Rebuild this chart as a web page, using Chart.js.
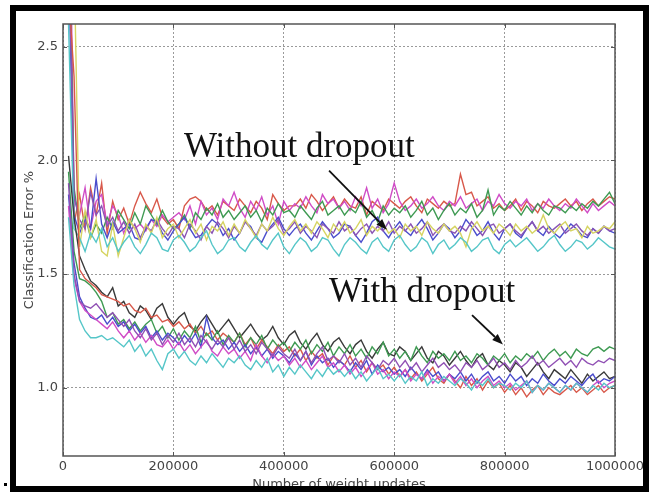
<!DOCTYPE html>
<html>
<head>
<meta charset="utf-8">
<script src="https://cdn.jsdelivr.net/npm/chart.js@4/dist/chart.umd.min.js"></script>
<style>
  body { margin: 0; background: #fff; }
  #wrap { position: relative; width: 649px; height: 492px; }
  #frame { position: absolute; left: 10px; top: 5px; width: 639px; height: 487px;
           border: 6px solid #000; box-sizing: border-box; pointer-events: none; }
  #dot { position: absolute; left: 4px; top: 483px; width: 3px; height: 3px; background: #000; }
</style>
</head>
<body>
<div id="wrap">
  <canvas id="myChart" width="649" height="492"></canvas>
  <div id="frame"></div>
  <div id="dot"></div>
</div>
<script>
// number of weight updates at each evaluation
var updates = [
  10000, 20000, 30000, 40000, 50000, 60000, 70000, 80000, 90000, 100000,
  110000, 120000, 130000, 140000, 150000, 160000, 170000, 180000, 190000, 200000,
  210000, 220000, 230000, 240000, 250000, 260000, 270000, 280000, 290000, 300000,
  310000, 320000, 330000, 340000, 350000, 360000, 370000, 380000, 390000, 400000,
  410000, 420000, 430000, 440000, 450000, 460000, 470000, 480000, 490000, 500000,
  510000, 520000, 530000, 540000, 550000, 560000, 570000, 580000, 590000, 600000,
  610000, 620000, 630000, 640000, 650000, 660000, 670000, 680000, 690000, 700000,
  710000, 720000, 730000, 740000, 750000, 760000, 770000, 780000, 790000, 800000,
  810000, 820000, 830000, 840000, 850000, 860000, 870000, 880000, 890000, 900000,
  910000, 920000, 930000, 940000, 950000, 960000, 970000, 980000, 990000, 1000000
];

var xTicks = [0, 200000, 400000, 600000, 800000, 1000000];
var yTicks = [1.0, 1.5, 2.0, 2.5];

// ---- without dropout ----
var noDropRed = [
  3.40, 1.72, 1.85, 1.70, 1.88, 1.76, 1.90, 1.68, 1.82, 1.74,
  1.79, 1.72, 1.80, 1.86, 1.81, 1.77, 1.83, 1.75, 1.72, 1.74,
  1.70, 1.80, 1.83, 1.84, 1.82, 1.78, 1.80, 1.76, 1.82, 1.80,
  1.78, 1.83, 1.80, 1.77, 1.82, 1.79, 1.74, 1.85, 1.81, 1.78,
  1.80, 1.80, 1.83, 1.79, 1.85, 1.82, 1.78, 1.81, 1.84, 1.79,
  1.83, 1.80, 1.79, 1.84, 1.76, 1.82, 1.80, 1.78, 1.83, 1.81,
  1.79, 1.82, 1.84, 1.80, 1.77, 1.83, 1.81, 1.79, 1.82, 1.80,
  1.81, 1.94, 1.85, 1.86, 1.80, 1.82, 1.84, 1.79, 1.81, 1.78,
  1.80, 1.83, 1.78, 1.82, 1.80, 1.77, 1.82, 1.80, 1.79, 1.81,
  1.83, 1.80, 1.82, 1.78, 1.81, 1.83, 1.80, 1.82, 1.84, 1.83
];
var noDropMagenta = [
  3.60, 1.84, 1.76, 1.88, 1.70, 1.82, 1.85, 1.72, 1.80, 1.76,
  1.68, 1.74, 1.70, 1.72, 1.69, 1.74, 1.71, 1.76, 1.73, 1.75,
  1.77, 1.74, 1.80, 1.72, 1.82, 1.76, 1.79, 1.74, 1.83, 1.80,
  1.86, 1.79, 1.75, 1.82, 1.78, 1.84, 1.76, 1.80, 1.72, 1.82,
  1.78, 1.81, 1.79, 1.84, 1.80, 1.77, 1.85, 1.81, 1.83, 1.79,
  1.82, 1.78, 1.84, 1.80, 1.88, 1.79, 1.83, 1.77, 1.81, 1.90,
  1.82, 1.78, 1.80, 1.83, 1.79, 1.81, 1.84, 1.80, 1.78, 1.82,
  1.80, 1.84, 1.79, 1.81, 1.83, 1.78, 1.82, 1.80, 1.85, 1.81,
  1.79, 1.82, 1.80, 1.83, 1.78, 1.81, 1.79, 1.83, 1.80, 1.78,
  1.81, 1.79, 1.83, 1.80, 1.77, 1.81, 1.78, 1.80, 1.82, 1.80
];
var noDropGreen = [
  3.10, 1.88, 1.70, 1.76, 1.66, 1.72, 1.68, 1.75, 1.70, 1.78,
  1.74, 1.70, 1.77, 1.72, 1.80, 1.76, 1.72, 1.78, 1.73, 1.70,
  1.72, 1.76, 1.70, 1.77, 1.74, 1.79, 1.76, 1.81, 1.75, 1.78,
  1.74, 1.77, 1.80, 1.75, 1.78, 1.73, 1.79, 1.76, 1.81, 1.77,
  1.78, 1.75, 1.80, 1.77, 1.74, 1.79, 1.82, 1.76, 1.78, 1.80,
  1.76, 1.79, 1.77, 1.82, 1.75, 1.78, 1.73, 1.80, 1.76, 1.79,
  1.77, 1.80, 1.75, 1.78, 1.82, 1.76, 1.79, 1.74, 1.78, 1.81,
  1.76, 1.79, 1.77, 1.81, 1.75, 1.78, 1.87, 1.76, 1.80, 1.78,
  1.82, 1.79, 1.76, 1.80, 1.77, 1.81, 1.78, 1.76, 1.80, 1.79,
  1.77, 1.80, 1.78, 1.81, 1.79, 1.82, 1.80, 1.83, 1.86, 1.81
];
var noDropBlue = [
  2.90, 1.76, 1.68, 1.74, 1.70, 1.92, 1.72, 1.66, 1.73, 1.68,
  1.70, 1.72, 1.66, 1.65, 1.70, 1.74, 1.73, 1.68, 1.65, 1.69,
  1.72, 1.75, 1.70, 1.66, 1.67, 1.71, 1.74, 1.72, 1.67, 1.70,
  1.65, 1.68, 1.73, 1.71, 1.66, 1.64, 1.69, 1.72, 1.75, 1.70,
  1.67, 1.70, 1.72, 1.68, 1.65, 1.69, 1.73, 1.70, 1.66, 1.68,
  1.72, 1.71, 1.67, 1.64, 1.68, 1.73, 1.75, 1.69, 1.66, 1.70,
  1.73, 1.69, 1.67, 1.71, 1.74, 1.70, 1.65, 1.68, 1.72, 1.70,
  1.66, 1.69, 1.74, 1.71, 1.67, 1.69, 1.73, 1.68, 1.65, 1.70,
  1.72, 1.68, 1.66, 1.70, 1.73, 1.69, 1.67, 1.71, 1.68, 1.66,
  1.69, 1.72, 1.70, 1.67, 1.66, 1.70, 1.68, 1.71, 1.69, 1.68
];
var noDropPurple = [
  3.00, 1.84, 1.74, 1.70, 1.86, 1.76, 1.80, 1.71, 1.75, 1.69,
  1.73, 1.68, 1.72, 1.66, 1.71, 1.69, 1.74, 1.70, 1.67, 1.71,
  1.70, 1.66, 1.72, 1.69, 1.65, 1.71, 1.68, 1.73, 1.70, 1.66,
  1.71, 1.68, 1.73, 1.70, 1.67, 1.72, 1.69, 1.71, 1.74, 1.68,
  1.70, 1.73, 1.68, 1.71, 1.69, 1.66, 1.72, 1.70, 1.68, 1.73,
  1.69, 1.71, 1.67, 1.70, 1.72, 1.68, 1.71, 1.69, 1.73, 1.68,
  1.71, 1.69, 1.72, 1.68, 1.70, 1.73, 1.67, 1.70, 1.72, 1.69,
  1.68, 1.71, 1.69, 1.73, 1.70, 1.67, 1.71, 1.72, 1.68, 1.70,
  1.72, 1.69, 1.67, 1.70, 1.73, 1.69, 1.71, 1.68, 1.70, 1.72,
  1.68, 1.70, 1.72, 1.69, 1.67, 1.70, 1.68, 1.71, 1.69, 1.70
];
var noDropYellow = [
  3.50, 2.90, 1.62, 1.78, 1.66, 1.74, 1.60, 1.58, 1.72, 1.58,
  1.66, 1.74, 1.70, 1.64, 1.72, 1.68, 1.75, 1.66, 1.70, 1.72,
  1.66, 1.70, 1.74, 1.68, 1.72, 1.65, 1.71, 1.69, 1.73, 1.67,
  1.72, 1.68, 1.74, 1.70, 1.66, 1.72, 1.69, 1.75, 1.70, 1.67,
  1.71, 1.74, 1.69, 1.72, 1.68, 1.73, 1.70, 1.66, 1.72, 1.69,
  1.73, 1.68, 1.70, 1.74, 1.67, 1.71, 1.69, 1.72, 1.68, 1.70,
  1.66, 1.72, 1.69, 1.71, 1.67, 1.73, 1.70, 1.68, 1.72, 1.69,
  1.71, 1.68, 1.62, 1.70, 1.73, 1.69, 1.71, 1.68, 1.72, 1.70,
  1.67, 1.72, 1.69, 1.71, 1.68, 1.70, 1.76, 1.70, 1.68, 1.71,
  1.73, 1.69, 1.70, 1.66, 1.71, 1.68, 1.69, 1.71, 1.70, 1.73
];
var noDropCyan = [
  2.60, 1.70, 1.66, 1.60, 1.68, 1.64, 1.70, 1.62, 1.66, 1.60,
  1.64, 1.67, 1.62, 1.59, 1.63, 1.68, 1.66, 1.61, 1.60, 1.65,
  1.67, 1.64, 1.60, 1.62, 1.66, 1.69, 1.63, 1.59, 1.61, 1.65,
  1.66, 1.62, 1.60, 1.64, 1.67, 1.63, 1.61, 1.65, 1.68, 1.62,
  1.59, 1.63, 1.66, 1.64, 1.60, 1.62, 1.66, 1.65, 1.61, 1.58,
  1.63, 1.66, 1.64, 1.61, 1.59, 1.64, 1.66, 1.62, 1.60, 1.65,
  1.67, 1.63, 1.60, 1.62, 1.66, 1.64, 1.59, 1.63, 1.65, 1.61,
  1.63, 1.66, 1.64, 1.60, 1.62, 1.65, 1.66, 1.61, 1.59, 1.63,
  1.65, 1.62, 1.64, 1.66, 1.63, 1.60, 1.62, 1.65, 1.67, 1.63,
  1.60, 1.62, 1.65, 1.64, 1.61, 1.63, 1.66, 1.64, 1.62, 1.61
];

// ---- with dropout ----
var dropBlack = [
  2.02, 1.75, 1.58, 1.52, 1.47, 1.45, 1.42, 1.40, 1.44, 1.36,
  1.38, 1.33, 1.31, 1.36, 1.34, 1.30, 1.35, 1.37, 1.31, 1.28,
  1.31, 1.33, 1.27, 1.25, 1.29, 1.32, 1.28, 1.24, 1.27, 1.30,
  1.26, 1.22, 1.25, 1.28, 1.24, 1.21, 1.23, 1.27, 1.22, 1.19,
  1.23, 1.25, 1.20, 1.17, 1.21, 1.24, 1.19, 1.16, 1.20, 1.22,
  1.18, 1.15, 1.19, 1.21, 1.16, 1.13, 1.17, 1.20, 1.15, 1.14,
  1.18, 1.16, 1.12, 1.15, 1.18, 1.13, 1.11, 1.16, 1.14, 1.10,
  1.13, 1.16, 1.12, 1.09, 1.13, 1.15, 1.10, 1.08, 1.12, 1.10,
  1.07, 1.11, 1.09, 1.05, 1.08, 1.11, 1.07, 1.04, 1.08, 1.06,
  1.04, 1.08, 1.05, 1.02, 1.06, 1.03, 1.05, 1.07, 1.04, 1.05
];
var dropRed = [
  2.75, 2.37, 1.52, 1.48, 1.46, 1.44, 1.41, 1.40, 1.39, 1.38,
  1.36, 1.37, 1.34, 1.33, 1.35, 1.31, 1.32, 1.29, 1.30, 1.27,
  1.29, 1.26, 1.28, 1.24, 1.27, 1.23, 1.25, 1.21, 1.24, 1.22,
  1.20, 1.24, 1.19, 1.22, 1.17, 1.21, 1.18, 1.15, 1.19, 1.16,
  1.18, 1.14, 1.17, 1.12, 1.16, 1.13, 1.15, 1.10, 1.14, 1.12,
  1.10, 1.14, 1.09, 1.12, 1.07, 1.11, 1.08, 1.10, 1.06, 1.09,
  1.05, 1.08, 1.04, 1.07, 1.03, 1.06, 1.09, 1.04, 1.02, 1.06,
  1.03, 1.00, 1.05, 1.01, 1.04, 0.99, 1.03, 1.00, 1.02, 0.98,
  1.01, 0.97, 1.00, 0.96, 0.99, 1.01, 0.97, 1.00, 0.98, 0.97,
  0.99, 1.01, 0.98, 1.00, 0.97, 0.99, 1.01, 0.98, 1.00, 1.01
];
var dropGreen = [
  1.95, 1.60, 1.48, 1.47, 1.45, 1.42, 1.38, 1.31, 1.33, 1.28,
  1.30, 1.26, 1.29, 1.25, 1.28, 1.30, 1.24, 1.27, 1.22, 1.26,
  1.21, 1.25, 1.22, 1.27, 1.20, 1.24, 1.21, 1.25, 1.19, 1.23,
  1.20, 1.24, 1.18, 1.22, 1.19, 1.23, 1.17, 1.21, 1.18, 1.20,
  1.16, 1.20, 1.17, 1.21, 1.15, 1.19, 1.16, 1.20, 1.14, 1.18,
  1.15, 1.19, 1.14, 1.17, 1.13, 1.18, 1.15, 1.20, 1.14, 1.17,
  1.13, 1.16, 1.12, 1.18, 1.14, 1.11, 1.16, 1.13, 1.15, 1.12,
  1.16, 1.12, 1.14, 1.11, 1.15, 1.13, 1.10, 1.14, 1.12, 1.15,
  1.11, 1.14, 1.12, 1.15, 1.13, 1.16, 1.12, 1.15, 1.17, 1.14,
  1.16, 1.13, 1.17, 1.15, 1.14, 1.17, 1.18, 1.16, 1.18, 1.17
];
var dropBlue = [
  1.85, 1.55, 1.40, 1.35, 1.31, 1.30, 1.32, 1.28, 1.31, 1.27,
  1.29, 1.25, 1.28, 1.24, 1.27, 1.22, 1.25, 1.21, 1.24, 1.22,
  1.19, 1.23, 1.20, 1.24, 1.18, 1.31, 1.22, 1.19, 1.21, 1.17,
  1.20, 1.16, 1.19, 1.15, 1.18, 1.14, 1.17, 1.13, 1.16, 1.14,
  1.11, 1.15, 1.12, 1.16, 1.10, 1.14, 1.11, 1.13, 1.09, 1.12,
  1.10, 1.07, 1.11, 1.08, 1.12, 1.06, 1.10, 1.07, 1.09, 1.06,
  1.08, 1.05, 1.09, 1.06, 1.04, 1.08, 1.05, 1.07, 1.03, 1.06,
  1.04, 1.07, 1.03, 1.06, 1.02, 1.05, 1.07, 1.03, 1.05, 1.02,
  1.06, 1.03, 1.05, 1.01, 1.04, 1.02, 1.06, 1.03, 1.01, 1.04,
  1.02, 1.05, 1.03, 1.01, 1.04, 1.06, 1.02, 1.04, 1.03, 1.05
];
var dropMagenta = [
  1.80, 1.48, 1.38, 1.34, 1.32, 1.30, 1.28, 1.26, 1.29, 1.25,
  1.22, 1.25, 1.21, 1.24, 1.20, 1.23, 1.19, 1.18, 1.21, 1.17,
  1.20, 1.16, 1.19, 1.15, 1.18, 1.21, 1.16, 1.14, 1.18, 1.15,
  1.17, 1.13, 1.16, 1.12, 1.19, 1.14, 1.11, 1.15, 1.12, 1.14,
  1.10, 1.13, 1.09, 1.12, 1.08, 1.11, 1.14, 1.09, 1.11, 1.07,
  1.10, 1.06, 1.09, 1.05, 1.08, 1.11, 1.06, 1.08, 1.04, 1.07,
  1.05, 1.08, 1.03, 1.06, 1.04, 1.07, 1.02, 1.05, 1.03, 1.06,
  1.02, 1.05, 1.01, 1.04, 1.00, 1.03, 1.05, 1.01, 1.03, 1.00,
  1.02, 0.99, 1.01, 1.03, 0.98, 1.01, 0.99, 1.02, 1.00, 0.98,
  1.01, 0.99, 1.02, 1.00, 0.98, 1.01, 1.03, 1.00, 1.02, 1.03
];
var dropCyan = [
  1.75, 1.45, 1.30, 1.25, 1.22, 1.22, 1.23, 1.21, 1.22, 1.20,
  1.18, 1.21, 1.16, 1.19, 1.14, 1.17, 1.12, 1.08, 1.15, 1.17,
  1.13, 1.16, 1.12, 1.10, 1.14, 1.11, 1.15, 1.12, 1.09, 1.13,
  1.11, 1.14, 1.10, 1.08, 1.12, 1.09, 1.13, 1.07, 1.10, 1.05,
  1.09, 1.06, 1.10, 1.07, 1.04, 1.08, 1.05, 1.09, 1.06, 1.08,
  1.05, 1.08, 1.04, 1.07, 1.03, 1.06, 1.09, 1.04, 1.06, 1.03,
  1.06, 1.02, 1.05, 1.03, 1.07, 1.01, 1.04, 1.02, 1.05, 1.03,
  1.01, 1.04, 1.02, 0.99, 1.03, 1.01, 1.04, 1.00, 1.02, 1.01,
  0.99, 1.02, 1.00, 1.03, 0.98, 1.01, 0.99, 1.02, 1.00, 0.98,
  1.01, 0.99, 1.02, 1.00, 0.98, 1.01, 0.99, 1.02, 1.00, 1.01
];
var dropPurple = [
  1.90, 1.50, 1.38, 1.36, 1.35, 1.37, 1.34, 1.31, 1.33, 1.30,
  1.27, 1.30, 1.25, 1.22, 1.26, 1.21, 1.24, 1.19, 1.23, 1.20,
  1.24, 1.19, 1.22, 1.18, 1.23, 1.20, 1.17, 1.21, 1.18, 1.22,
  1.17, 1.21, 1.16, 1.19, 1.15, 1.20, 1.17, 1.14, 1.18, 1.15,
  1.13, 1.17, 1.12, 1.16, 1.11, 1.15, 1.18, 1.12, 1.14, 1.11,
  1.15, 1.10, 1.13, 1.09, 1.14, 1.11, 1.08, 1.12, 1.10, 1.13,
  1.09, 1.12, 1.08, 1.11, 1.07, 1.10, 1.13, 1.09, 1.11, 1.08,
  1.10, 1.07, 1.11, 1.09, 1.12, 1.08, 1.10, 1.13, 1.09, 1.11,
  1.08, 1.12, 1.09, 1.11, 1.14, 1.10, 1.12, 1.09, 1.11, 1.13,
  1.10, 1.12, 1.09, 1.13, 1.11, 1.10, 1.12, 1.11, 1.13, 1.12
];

document.addEventListener("DOMContentLoaded", main);

function main(){
  var series = [
    {data: dropCyan,    color: '#55c6c8'},
    {data: dropPurple,  color: '#9050b4'},
    {data: dropMagenta, color: '#d04cc6'},
    {data: dropBlue,    color: '#4a4ccc'},
    {data: dropGreen,   color: '#3e9a52'},
    {data: dropRed,     color: '#d8584a'},
    {data: dropBlack,   color: '#3a3a3a'},
    {data: noDropCyan,    color: '#55c6c8'},
    {data: noDropYellow,  color: '#d6d462'},
    {data: noDropPurple,  color: '#8a54b4'},
    {data: noDropBlue,    color: '#4a4ccc'},
    {data: noDropGreen,   color: '#3e9a52'},
    {data: noDropMagenta, color: '#d04cc6'},
    {data: noDropRed,     color: '#d8584a'}
  ];
  renderChart(series);
}

// text + arrows, placed in data coordinates
var notes = [
  {text: 'Without dropout', x: 219000, y: 2.016, ax1: 482000, ay1: 1.955, ax2: 587000, ay2: 1.695},
  {text: 'With dropout',    x: 482000, y: 1.378, ax1: 741000, ay1: 1.32,  ax2: 797000, ay2: 1.19}
];

var annotate = {
  id: 'annotate',
  afterDraw: function(chart){
    var ctx = chart.ctx, xs = chart.scales.x, ys = chart.scales.y, a = chart.chartArea;
    ctx.save();
    // inward tick marks, matplotlib style
    ctx.strokeStyle = '#555';
    ctx.lineWidth = 1;
    xTicks.forEach(function(v){
      var px = Math.round(xs.getPixelForValue(v)) + 0.5;
      ctx.beginPath();
      ctx.moveTo(px, a.bottom); ctx.lineTo(px, a.bottom - 4);
      ctx.moveTo(px, a.top); ctx.lineTo(px, a.top + 4);
      ctx.stroke();
    });
    yTicks.forEach(function(v){
      var py = Math.round(ys.getPixelForValue(v)) + 0.5;
      ctx.beginPath();
      ctx.moveTo(a.left, py); ctx.lineTo(a.left + 4, py);
      ctx.moveTo(a.right, py); ctx.lineTo(a.right - 4, py);
      ctx.stroke();
    });
    // plot frame
    ctx.strokeStyle = '#555';
    ctx.lineWidth = 1.5;
    ctx.strokeRect(a.left, a.top, a.right - a.left, a.bottom - a.top);

    ctx.fillStyle = '#111';
    ctx.strokeStyle = '#111';
    ctx.font = '35px "Liberation Serif"';
    ctx.textBaseline = 'alphabetic';
    notes.forEach(function(n){
      ctx.fillText(n.text, xs.getPixelForValue(n.x), ys.getPixelForValue(n.y));
      drawArrow(ctx, xs.getPixelForValue(n.ax1), ys.getPixelForValue(n.ay1),
                     xs.getPixelForValue(n.ax2), ys.getPixelForValue(n.ay2));
    });
    ctx.restore();
  }
};

function drawArrow(ctx, x1, y1, x2, y2){
  var ang = Math.atan2(y2 - y1, x2 - x1);
  var hl = 11, hw = 4;
  var bx = x2 - hl * Math.cos(ang), by = y2 - hl * Math.sin(ang);
  ctx.lineWidth = 1.8;
  ctx.beginPath();
  ctx.moveTo(x1, y1); ctx.lineTo(bx, by);
  ctx.stroke();
  ctx.beginPath();
  ctx.moveTo(x2, y2);
  ctx.lineTo(bx + hw * Math.sin(ang), by - hw * Math.cos(ang));
  ctx.lineTo(bx - hw * Math.sin(ang), by + hw * Math.cos(ang));
  ctx.closePath();
  ctx.fill();
}

function renderChart(series) {
  var ctx = document.getElementById("myChart").getContext('2d');
  var datasets = series.map(function(s){
    return {
      data: updates.map(function(u, i){ return {x: u, y: s.data[i]}; }),
      borderColor: s.color,
      borderWidth: 1.4,
      pointRadius: 0,
      tension: 0,
      fill: false
    };
  });
  var tickFont = {family: 'DejaVu Sans', size: 13};
  var myChart = new Chart(ctx, {
    type: 'line',
    data: {datasets: datasets},
    options: {
      responsive: false,
      animation: false,
      layout: {padding: {left: 0, right: 34, top: 24, bottom: 0}},
      plugins: {legend: {display: false}, tooltip: {enabled: false}},
      scales: {
        x: {
          type: 'linear', min: 0, max: 1000000,
          afterFit: function(s){ s.height = 36; },
          afterBuildTicks: function(s){ s.ticks = xTicks.map(function(v){ return {value: v}; }); },
          ticks: {color: '#444', font: tickFont, padding: 3, maxRotation: 0,
                  callback: function(v){ return String(v); }},
          grid: {color: '#9a9a9a', drawTicks: false},
          border: {display: false, dash: [2, 2]},
          title: {display: true, text: 'Number of weight updates', color: '#444',
                  font: tickFont, padding: {top: 0, bottom: 0}}
        },
        y: {
          min: 0.7, max: 2.6,
          afterFit: function(s){ s.width = 63; },
          afterBuildTicks: function(s){ s.ticks = yTicks.map(function(v){ return {value: v}; }); },
          ticks: {color: '#444', font: tickFont, padding: 5,
                  callback: function(v){ return v.toFixed(1); }},
          grid: {color: '#9a9a9a', drawTicks: false},
          border: {display: false, dash: [2, 2]},
          title: {display: true, text: 'Classification Error %', color: '#444',
                  font: tickFont, padding: {top: 22, bottom: 0}}
        }
      }
    },
    plugins: [annotate]
  });
}
</script>
</body>
</html>
